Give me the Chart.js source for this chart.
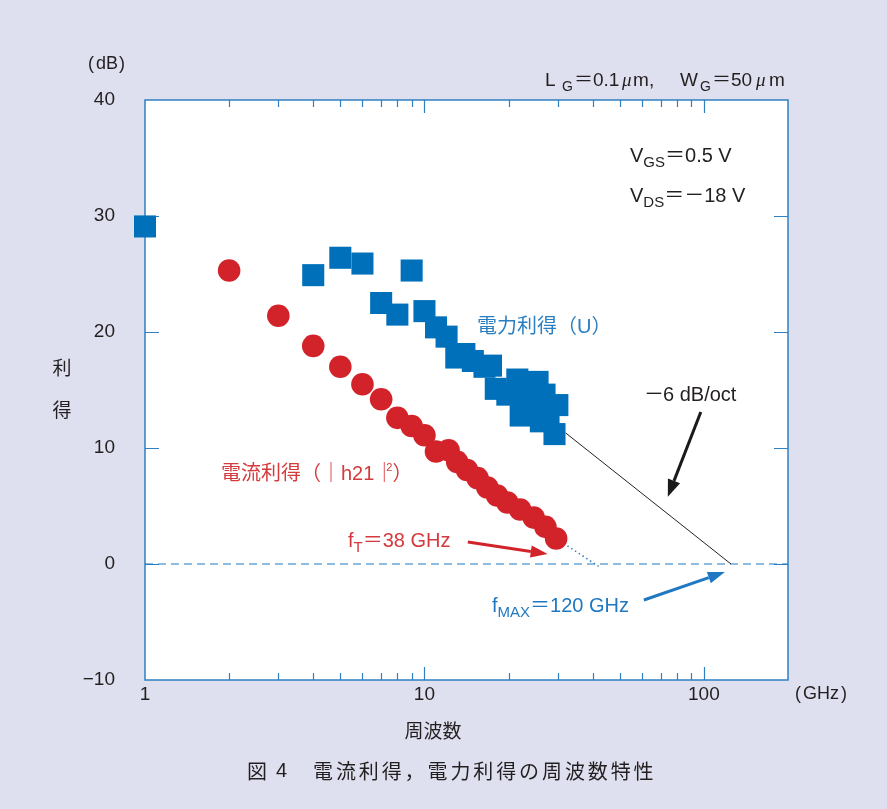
<!DOCTYPE html>
<html><head><meta charset="utf-8">
<script src="https://cdn.jsdelivr.net/npm/chart.js@4/dist/chart.umd.min.js"></script>
<style>html,body{margin:0;padding:0;background:#dfe0ef;}#wrap{width:887px;height:809px;}</style>
</head><body><div id="wrap"><canvas id="c" width="887" height="809"></canvas></div>
<script>
// ---- data (GHz, dB) ----
const currentGainFreq = [2, 3, 4, 5, 6, 7, 8, 9, 10, 11, 12.2, 13.1, 14.2, 15.5, 16.8, 18.2, 19.8, 22, 24.6, 27.1, 29.6];
const currentGainDb   = [25.3, 21.4, 18.8, 17.0, 15.5, 14.2, 12.6, 11.9, 11.1, 9.7, 9.8, 8.8, 8.1, 7.4, 6.6, 5.9, 5.3, 4.7, 4.0, 3.2, 2.2];
const powerGainFreq = [1, 4, 5, 6, 7, 8, 9, 10, 11, 12, 13, 13.9, 14.9, 16.4, 17.3, 18, 19.8, 21.5, 22.1, 23.2, 25.4, 26.0, 26.1, 26.9, 27.8, 29.2, 29.9];
const powerGainDb   = [29.1, 24.9, 26.4, 25.9, 22.5, 21.5, 25.3, 21.8, 20.4, 19.6, 17.8, 18.1, 17.5, 17.0, 17.1, 15.1, 14.6, 15.9, 12.8, 14.3, 15.7, 13.4, 12.3, 14.6, 12.6, 11.2, 13.7];
const slopeLineFreq = [32, 125];
const slopeLineDb   = [11.3, 0];
const ftExtFreq = [29.6, 42];
const ftExtDb   = [2.2, -0.2];
const zeroLineFreq = [1, 200];
const zeroLineDb   = [0, 0];
const xTickLabels = [1, 10, 100];
const xMinorTicks = [2, 3, 4, 5, 6, 7, 8, 9, 20, 30, 40, 50, 60, 70, 80, 90];
const xMajorTicks = [10, 100];
const yTicks = [-10, 0, 10, 20, 30, 40];
const yInnerTicks = [0, 10, 20, 30];
// annotation arrows in data coordinates [fromFreq, fromDb, toFreq, toDb]
const slopeArrow = [97.5, 13.1, 74.3, 5.8];
const ftArrow = [14.3, 1.9, 27.6, 0.86];
const fmaxArrow = [61, -3.1, 118.9, -0.69];

const BG = '#dfe0ef';
const AX = '#2f7fc1';
const TXT = '#231f20';
const RED = '#d2232a';
const BLUE = '#0070ba';
const LAT = '"Liberation Sans", Arial, sans-serif';
const CJK = '"Noto Sans CJK JP", "Noto Sans CJK SC", sans-serif';

const pts = (xs, ys) => xs.map((x, i) => ({x: x, y: ys[i]}));

function drawParts(ctx, parts, x, y, color) {
  let cx = x;
  ctx.textAlign = 'left';
  ctx.textBaseline = 'alphabetic';
  ctx.fillStyle = color;
  for (const p of parts) {
    ctx.font = p.f;
    if (p.x !== undefined) cx = p.x;
    ctx.fillText(p.t, cx, y + (p.dy || 0));
    cx += ctx.measureText(p.t).width + (p.g || 0);
  }
}
function arrow(ctx, x1, y1, x2, y2, color, w, hl, hw) {
  const a = Math.atan2(y2 - y1, x2 - x1);
  const bx = x2 - hl * Math.cos(a), by = y2 - hl * Math.sin(a);
  ctx.save();
  ctx.strokeStyle = color; ctx.fillStyle = color; ctx.lineWidth = w;
  ctx.beginPath(); ctx.moveTo(x1, y1); ctx.lineTo(bx, by); ctx.stroke();
  ctx.beginPath();
  ctx.moveTo(x2, y2);
  ctx.lineTo(bx + hw * Math.sin(a), by - hw * Math.cos(a));
  ctx.lineTo(bx - hw * Math.sin(a), by + hw * Math.cos(a));
  ctx.closePath(); ctx.fill();
  ctx.restore();
}

const deco = {
  id: 'deco',
  beforeDraw(chart) {
    const ctx = chart.ctx, a = chart.chartArea;
    ctx.save();
    ctx.fillStyle = BG; ctx.fillRect(0, 0, chart.width, chart.height);
    ctx.fillStyle = '#ffffff'; ctx.fillRect(a.left, a.top, a.right - a.left, a.bottom - a.top);
    ctx.restore();
  },
  beforeDatasetsDraw(chart) {
    const ctx = chart.ctx, a = chart.chartArea, xs = chart.scales.x, ys = chart.scales.y;
    ctx.save();
    ctx.strokeStyle = AX; ctx.lineWidth = 1.5;
    ctx.strokeRect(a.left, a.top, a.right - a.left, a.bottom - a.top);
    ctx.lineWidth = 1.2;
    ctx.beginPath();
    for (const v of xMinorTicks) {
      const px = Math.round(xs.getPixelForValue(v)) + 0.5;
      ctx.moveTo(px, a.bottom); ctx.lineTo(px, a.bottom - 7);
      ctx.moveTo(px, a.top); ctx.lineTo(px, a.top + 7);
    }
    for (const v of xMajorTicks) {
      const px = Math.round(xs.getPixelForValue(v)) + 0.5;
      ctx.moveTo(px, a.bottom); ctx.lineTo(px, a.bottom - 13);
      ctx.moveTo(px, a.top); ctx.lineTo(px, a.top + 13);
    }
    for (const v of yInnerTicks) {
      const py = Math.round(ys.getPixelForValue(v)) + 0.5;
      ctx.moveTo(a.left, py); ctx.lineTo(a.left + 14, py);
      ctx.moveTo(a.right, py); ctx.lineTo(a.right - 14, py);
    }
    ctx.stroke();
    ctx.restore();
  },
  afterDraw(chart) {
    const ctx = chart.ctx, xs = chart.scales.x, ys = chart.scales.y;
    const P = (f, d) => [xs.getPixelForValue(f), ys.getPixelForValue(d)];
    ctx.save();
    const L18 = '18px ' + LAT, L19 = '19px ' + LAT, L20 = '20px ' + LAT, S14 = '14px ' + LAT, S15 = '15px ' + LAT;
    const MU = 'italic 19px "Liberation Serif", serif';
    const EQ19 = '19px ' + CJK, EQ20 = '20px ' + CJK;
    // axis unit labels
    drawParts(ctx, [{t: '(', f: L18, x: 88}, {t: 'dB', f: L18, x: 96}, {t: ')', f: L18, x: 119}], 0, 69, TXT);
    drawParts(ctx, [{t: '(', f: L18, x: 795}, {t: 'GHz', f: L18, x: 803}, {t: ')', f: L18, x: 841}], 0, 699, TXT);
    ctx.fillStyle = TXT; ctx.textBaseline = 'middle'; ctx.textAlign = 'center';
    ctx.font = '19px ' + CJK;
    ctx.fillText('利', 62, 368);
    ctx.fillText('得', 62, 410);
    ctx.fillText('周波数', 433, 731);
    // caption with wide character pitch
    ctx.font = '20px ' + CJK;
    ctx.textAlign = 'left';
    ctx.fillText('図', 247, 771);
    ctx.font = '20px ' + LAT;
    ctx.fillText('4', 276, 771);
    ctx.font = '20px ' + CJK;
    const cap = '電流利得，電力利得の周波数特性';
    for (let i = 0; i < cap.length; i++) ctx.fillText(cap[i], 313 + i * 22.9, 771);

    drawParts(ctx, [
      {t: 'L', f: L19, x: 545}, {t: 'G', f: S14, dy: 5, x: 562}, {t: '＝', f: EQ19, x: 574}, {t: '0.1', f: L19, x: 593},
      {t: 'μ', f: MU, x: 622}, {t: 'm', f: L19, x: 633}, {t: ',', f: L19, x: 649},
      {t: 'W', f: L19, x: 680}, {t: 'G', f: S14, dy: 5, x: 700},
      {t: '＝', f: EQ19, x: 712}, {t: '50', f: L19, x: 731}, {t: 'μ', f: MU, x: 756}, {t: 'm', f: L19, x: 769}
    ], 545, 86, TXT);
    drawParts(ctx, [{t: 'V', f: L20}, {t: 'GS', f: S15, dy: 5}, {t: '＝', f: EQ20}, {t: '0.5 V', f: L20}], 630, 162, TXT);
    drawParts(ctx, [{t: 'V', f: L20}, {t: 'DS', f: S15, dy: 5}, {t: '＝－', f: EQ20}, {t: '18 V', f: L20}], 630, 202, TXT);

    drawParts(ctx, [{t: '電力利得（', f: '20px ' + CJK}, {t: 'U', f: '20px ' + LAT}, {t: '）', f: '20px ' + CJK}], 477, 333, '#2b7fc0');
    drawParts(ctx, [{t: '電流利得（｜', f: '20px ' + CJK}, {t: 'h21', f: '20px ' + LAT}, {t: '｜', f: '20px ' + CJK, g: -8},
                    {t: '2', f: '11px ' + LAT, dy: -9}, {t: '）', f: '20px ' + CJK}], 221, 480, '#d53a3d');
    drawParts(ctx, [{t: '－', f: EQ20, x: 644}, {t: '6 dB/oct', f: L20, x: 663}], 0, 401, TXT);
    drawParts(ctx, [{t: 'f', f: L20}, {t: 'T', f: S15, dy: 5}, {t: '＝', f: EQ20}, {t: '38 GHz', f: L20}], 348, 547, '#d53a3d');
    drawParts(ctx, [{t: 'f', f: L20}, {t: 'MAX', f: S15, dy: 5}, {t: '＝', f: EQ20}, {t: '120 GHz', f: L20}], 492, 612, '#1f78c1');

    let p1, p2;
    p1 = P(slopeArrow[0], slopeArrow[1]); p2 = P(slopeArrow[2], slopeArrow[3]);
    arrow(ctx, p1[0], p1[1], p2[0], p2[1], '#1a1a1a', 3, 17, 6.5);
    p1 = P(ftArrow[0], ftArrow[1]); p2 = P(ftArrow[2], ftArrow[3]);
    arrow(ctx, p1[0], p1[1], p2[0], p2[1], RED, 3, 17, 6);
    p1 = P(fmaxArrow[0], fmaxArrow[1]); p2 = P(fmaxArrow[2], fmaxArrow[3]);
    arrow(ctx, p1[0], p1[1], p2[0], p2[1], '#1f78c1', 3, 17, 6);
    ctx.restore();
  }
};

new Chart(document.getElementById('c'), {
  type: 'scatter',
  data: {
    datasets: [
      {label: '電流利得', data: pts(currentGainFreq, currentGainDb), pointStyle: 'circle', pointRadius: 11.3,
       backgroundColor: RED, borderWidth: 0, pointBorderWidth: 0, clip: false, order: 1},
      {label: '電力利得', data: pts(powerGainFreq, powerGainDb), pointStyle: 'rect', pointRadius: 15.6,
       backgroundColor: BLUE, borderWidth: 0, pointBorderWidth: 0, clip: false, order: 2},
      {label: 'slope', data: pts(slopeLineFreq, slopeLineDb), showLine: true, pointRadius: 0,
       borderColor: '#222222', borderWidth: 1, order: 3},
      {label: 'ft', data: pts(ftExtFreq, ftExtDb), showLine: true, pointRadius: 0,
       borderColor: '#2f7fc1', borderWidth: 1.5, borderDash: [1.5, 3], order: 4},
      {label: 'zero', data: pts(zeroLineFreq, zeroLineDb), showLine: true, pointRadius: 0,
       borderColor: '#1f78c1', borderWidth: 1.2, borderDash: [8, 5], order: 5}
    ]
  },
  options: {
    responsive: false, animation: false, devicePixelRatio: 1,
    layout: {padding: {left: 0, top: 100, right: 99, bottom: 0}},
    plugins: {legend: {display: false}, tooltip: {enabled: false}},
    scales: {
      x: {type: 'logarithmic', min: 1, max: 200, position: 'bottom',
          afterBuildTicks: s => { s.ticks = xTickLabels.map(v => ({value: v})); },
          afterFit: s => { s.height = 129; },
          ticks: {callback: v => String(v), font: {family: 'Liberation Sans', size: 19}, color: TXT,
                  padding: 3, maxRotation: 0, autoSkip: false},
          grid: {display: false, drawTicks: false}, border: {display: false}},
      y: {min: -10, max: 40,
          afterBuildTicks: s => { s.ticks = yTicks.map(v => ({value: v})); },
          afterFit: s => { s.width = 145; },
          ticks: {callback: v => String(v).replace('-', '−'), font: {family: 'Liberation Sans', size: 19},
                  color: TXT, padding: 30, autoSkip: false},
          grid: {display: false, drawTicks: false}, border: {display: false}}
    }
  },
  plugins: [deco]
});
</script>
</body></html>
